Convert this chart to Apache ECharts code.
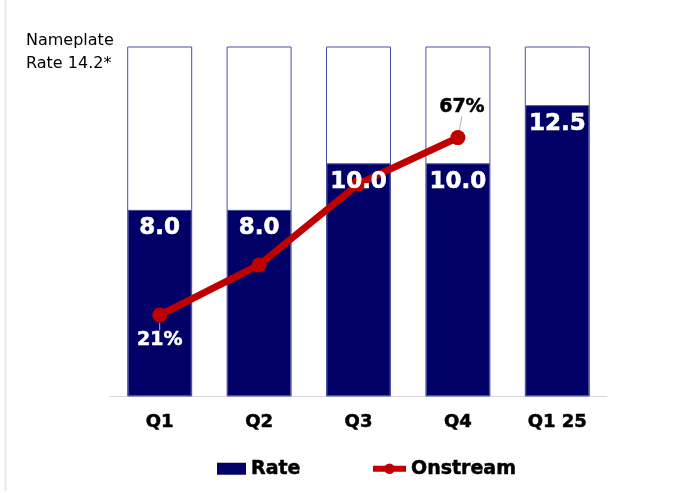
<!DOCTYPE html>
<html><head><meta charset="utf-8">
<script src="https://cdn.jsdelivr.net/npm/echarts@6/dist/echarts.min.js"></script>
<style>html,body{margin:0;padding:0;background:#fff}#c{width:678px;height:493px}</style>
</head><body><div id="c"></div>
<script>
const categories = ['Q1', 'Q2', 'Q3', 'Q4', 'Q1 25'];
const rateValues = [8.0, 8.0, 10.0, 10.0, 12.5];
const onstreamValues = [21, 34, 55, 67, null];
const onstreamLabelShown = [true, false, false, true, false];
const nameplateRate = 14.2;

const FONT = 'DejaVu Sans';
const chart = echarts.init(document.getElementById('c'), null, {renderer: 'canvas'});

const onstreamData = onstreamValues.map((v, i) => {
  const below = i === 0;
  return {
    value: v,
    label: {
      show: onstreamLabelShown[i],
      position: below ? 'bottom' : 'top',
      distance: below ? 6 : 12,
      color: below ? '#ffffff' : '#000000',
      textBorderColor: below ? '#ffffff' : '#000000'
    }
  };
});

const legendText = {fontFamily: FONT, fontWeight: 'bold', fontSize: 19, color: '#000', textBorderColor: '#000', textBorderWidth: 0.5};

chart.setOption({
  animation: false,
  backgroundColor: '#ffffff',
  textStyle: {fontFamily: FONT},
  grid: {left: 110, right: 71, top: 47, bottom: 97, containLabel: false},
  xAxis: {
    type: 'category',
    data: categories,
    axisTick: {show: false},
    axisLine: {lineStyle: {color: '#d9d9d9', width: 1}},
    axisLabel: {color: '#000', fontWeight: 'bold', fontSize: 18, fontFamily: FONT, margin: 17,
      textBorderColor: '#000', textBorderWidth: 0.5}
  },
  yAxis: [
    {type: 'value', min: 0, max: 15, show: false, splitLine: {show: false}},
    {type: 'value', min: 0, max: 90.5, show: false, splitLine: {show: false}}
  ],
  legend: [
    {
      data: [{name: 'Rate', icon: 'rect', itemStyle: {borderWidth: 0}}],
      left: 217, top: 459, padding: 0, itemWidth: 29, itemHeight: 12, itemGap: 0,
      textStyle: legendText
    },
    {
      data: [{name: 'Onstream'}],
      left: 370, top: 459, padding: 0, itemWidth: 33, itemHeight: 13, itemGap: 0,
      lineStyle: {width: 6},
      textStyle: legendText
    }
  ],
  graphic: [
    {type: 'line', shape: {x1: 5.5, y1: 0, x2: 5.5, y2: 491}, style: {stroke: '#e8e8e8', lineWidth: 2}, silent: true},
    {
      type: 'text', left: 26, top: 29,
      style: {
        text: 'Nameplate\nRate ' + nameplateRate.toFixed(1) + '*',
        fontFamily: FONT, fontSize: 16, lineHeight: 23, fill: '#000', align: 'center'
      }
    }
  ],
  series: [
    {
      name: 'Rate', type: 'bar', data: rateValues, barWidth: 64, z: 2,
      itemStyle: {color: '#000066', borderColor: '#4b50a5', borderWidth: 1},
      showBackground: true,
      backgroundStyle: {color: '#ffffff', borderColor: '#4b50a5', borderWidth: 1, opacity: 1}
    },
    {
      name: 'RateLabel', type: 'bar', data: rateValues, barWidth: 64, barGap: '-100%', z: 5, silent: true,
      itemStyle: {color: 'rgba(0,0,0,0)'},
      label: {
        show: true, position: 'insideTop', distance: 7, color: '#fff',
        fontFamily: FONT, fontWeight: 'bold', fontSize: 23,
        textBorderColor: '#fff', textBorderWidth: 0.6,
        formatter: p => p.value.toFixed(1)
      }
    },
    {
      name: 'Onstream', type: 'line', yAxisIndex: 1, data: onstreamData, z: 3,
      symbol: 'circle', symbolSize: 15,
      lineStyle: {color: '#c00000', width: 7},
      itemStyle: {color: '#c00000'},
      label: {fontFamily: FONT, fontWeight: 'bold', fontSize: 19, textBorderWidth: 0.5, formatter: p => p.value + '%'},
      labelLine: {show: true, lineStyle: {color: '#b0b0b0', width: 1}},
      labelLayout: p => (p.dataIndex === 0 ? {dy: 2} : (p.dataIndex === 3 ? {dy: -2, dx: 4} : {}))
    }
  ]
});
</script>
</body></html>
